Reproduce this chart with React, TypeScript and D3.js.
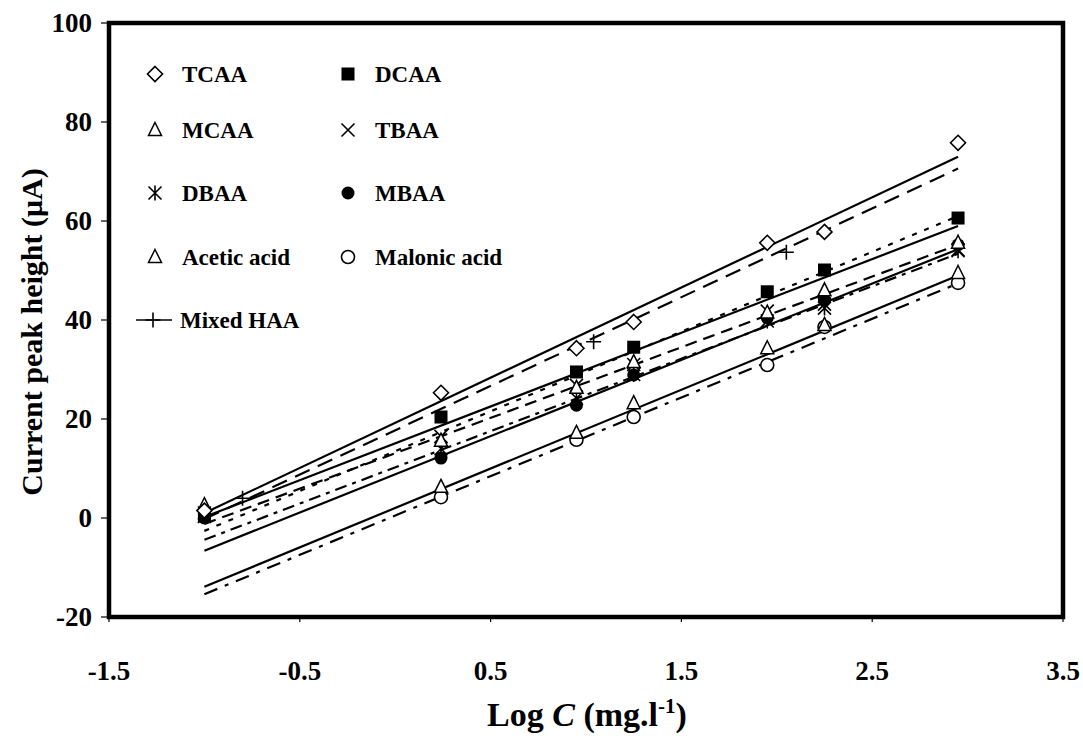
import React from 'react';
import { scaleLinear, line } from 'd3';

const width = 1083;
const height = 739;

// log concentration of the standards
const logC = [-1, 0.24, 0.95, 1.25, 1.95, 2.25, 2.95];

// peak heights (uA), null where no point was plotted
const tcaa = [1.5, 25.3, 34.3, 39.6, 55.6, 57.8, 75.8];
const dcaa = [0.4, 20.4, 29.5, 34.5, 45.7, 50.1, 60.6];
const mcaa = [2.6, 15.6, 26.3, 31.5, 41.5, 46.0, 55.6];
const tbaa = [1.0, 16.5, 26.8, 31.0, 41.8, 43.2, 54.2];
const dbaa = [0.3, 14.0, 24.2, 29.0, 39.8, 42.4, 54.0];
const mbaa = [0.0, 12.1, 22.8, 28.9, 40.4, 44.0, 55.2];
const acetic = [null, 6.3, 17.2, 23.2, 34.3, 39.0, 49.5];
const malonic = [null, 4.2, 15.8, 20.4, 30.9, 38.6, 47.5];

const mixedX = [-0.8, 1.04, 2.05];
const mixedY = [4.0, 35.6, 53.7];

// fitted calibration lines, value at first and last logC
const fitX = [-1, 2.95];
const fitTCAA = [1.0, 73.0];
const fitMixed = [-0.2, 70.6];
const fitMCAA = [-2.6, 61.0];
const fitDCAA = [0.2, 59.0];
const fitTBAA = [-1.2, 55.2];
const fitDBAA = [-4.4, 53.4];
const fitMBAA = [-6.6, 54.3];
const fitAcetic = [-13.9, 49.0];
const fitMalonic = [-15.4, 47.4];

const xTicks = [-1.5, -0.5, 0.5, 1.5, 2.5, 3.5];
const yTicks = [-20, 0, 20, 40, 60, 80, 100];

const font = '"Liberation Serif", "Times New Roman", serif';

const x = scaleLinear().domain([-1.5, 3.5]).range([109, 1063]);
const y = scaleLinear().domain([-20, 100]).range([617, 23]);

const Marker = ({ kind, cx, cy }) => {
  const s = 6.5;
  switch (kind) {
    case 'diamond':
      return (
        <path
          d={`M${cx},${cy - s - 1}L${cx + s + 1},${cy}L${cx},${cy + s + 1}L${cx - s - 1},${cy}Z`}
          fill="white"
          stroke="black"
          strokeWidth={1.6}
        />
      );
    case 'square':
      return <rect x={cx - s} y={cy - s} width={2 * s} height={2 * s} fill="black" />;
    case 'triangle':
      return (
        <path
          d={`M${cx},${cy - s - 1}L${cx + s},${cy + s - 1}L${cx - s},${cy + s - 1}Z`}
          fill="white"
          stroke="black"
          strokeWidth={1.5}
        />
      );
    case 'x':
      return (
        <path
          d={`M${cx - s},${cy - s}L${cx + s},${cy + s}M${cx - s},${cy + s}L${cx + s},${cy - s}`}
          stroke="black"
          strokeWidth={1.6}
        />
      );
    case 'star':
      return (
        <path
          d={`M${cx - s},${cy - s}L${cx + s},${cy + s}M${cx - s},${cy + s}L${cx + s},${cy - s}M${cx},${cy - s - 1}L${cx},${cy + s + 1}`}
          stroke="black"
          strokeWidth={1.6}
        />
      );
    case 'dot':
      return <circle cx={cx} cy={cy} r={s} fill="black" />;
    case 'circle':
      return <circle cx={cx} cy={cy} r={s} fill="white" stroke="black" strokeWidth={1.6} />;
    case 'plus':
      return (
        <path
          d={`M${cx - s - 1},${cy}L${cx + s + 1},${cy}M${cx},${cy - s - 1}L${cx},${cy + s + 1}`}
          stroke="black"
          strokeWidth={1.6}
        />
      );
    default:
      return null;
  }
};

const series = [
  { name: 'TCAA', kind: 'diamond', xs: logC, ys: tcaa, fit: fitTCAA, dash: null },
  { name: 'DCAA', kind: 'square', xs: logC, ys: dcaa, fit: fitDCAA, dash: null },
  { name: 'MCAA', kind: 'triangle', xs: logC, ys: mcaa, fit: fitMCAA, dash: '5,8' },
  { name: 'TBAA', kind: 'x', xs: logC, ys: tbaa, fit: fitTBAA, dash: '12,7' },
  { name: 'DBAA', kind: 'star', xs: logC, ys: dbaa, fit: fitDBAA, dash: '12,6,4,6' },
  { name: 'MBAA', kind: 'dot', xs: logC, ys: mbaa, fit: fitMBAA, dash: null },
  { name: 'Acetic acid', kind: 'triangle', xs: logC, ys: acetic, fit: fitAcetic, dash: null },
  { name: 'Malonic acid', kind: 'circle', xs: logC, ys: malonic, fit: fitMalonic, dash: '14,8,4,8' },
  { name: 'Mixed HAA', kind: 'plus', xs: mixedX, ys: mixedY, fit: fitMixed, dash: '16,9' },
];

// legend order (two columns, then Mixed HAA on its own row)
const legendRows = [
  ['TCAA', 'DCAA'],
  ['MCAA', 'TBAA'],
  ['DBAA', 'MBAA'],
  ['Acetic acid', 'Malonic acid'],
  ['Mixed HAA'],
];
const legendY = [74, 130, 193, 257, 320];

const App = () => {
  const fitLine = line()
    .x((d) => x(d[0]))
    .y((d) => y(d[1]));

  return (
    <svg
      width={width}
      height={height}
      style={{ position: 'absolute', left: 0, top: 0, display: 'block' }}
    >
      <rect width={width} height={height} fill="white" />

      {/* fitted lines */}
      {series.map((s) => (
        <path
          key={'fit' + s.name}
          d={fitLine(fitX.map((v, i) => [v, s.fit[i]]))}
          fill="none"
          stroke="black"
          strokeWidth={2.2}
          strokeDasharray={s.dash || undefined}
        />
      ))}

      {/* points, bottom series first */}
      {[...series].reverse().map((s) =>
        s.xs.map((v, i) =>
          s.ys[i] == null ? null : (
            <Marker key={s.name + i} kind={s.kind} cx={x(v)} cy={y(s.ys[i])} />
          )
        )
      )}

      {/* plot frame */}
      <rect
        x={x(-1.5)}
        y={y(100)}
        width={x(3.5) - x(-1.5)}
        height={y(-20) - y(100)}
        fill="none"
        stroke="black"
        strokeWidth={4.5}
      />

      {/* y axis */}
      {yTicks.map((t) => (
        <g key={'y' + t}>
          <line x1={x(-1.5) - 8} x2={x(-1.5)} y1={y(t)} y2={y(t)} stroke="black" strokeWidth={1.2} />
          <text
            x={92}
            y={y(t)}
            dy="0.35em"
            textAnchor="end"
            fontFamily={font}
            fontWeight="bold"
            fontSize={27}
          >
            {t}
          </text>
        </g>
      ))}

      {/* x axis */}
      {xTicks.map((t) => (
        <g key={'x' + t}>
          <line x1={x(t)} x2={x(t)} y1={y(-20)} y2={y(-20) + 5} stroke="black" strokeWidth={1.2} />
          <text
            x={x(t)}
            y={680}
            textAnchor="middle"
            fontFamily={font}
            fontWeight="bold"
            fontSize={27}
          >
            {t}
          </text>
        </g>
      ))}

      {/* axis titles */}
      <text
        transform={`translate(42, 332) rotate(-90)`}
        textAnchor="middle"
        fontFamily={font}
        fontWeight="bold"
        fontSize={30}
      >
        Current peak height (μA)
      </text>
      <text x={587} y={726} textAnchor="middle" fontFamily={font} fontWeight="bold" fontSize={34}>
        Log <tspan fontStyle="italic">C</tspan> (mg.l
        <tspan dy={-13} fontSize={21}>-1</tspan>
        <tspan dy={13}>)</tspan>
      </text>

      {/* legend */}
      {legendRows.map((row, r) =>
        row.map((name, c) => {
          const s = series.find((d) => d.name === name);
          const ly = legendY[r];
          if (name === 'Mixed HAA') {
            return (
              <g key={'lg' + name}>
                <line x1={136} x2={172} y1={ly} y2={ly} stroke="black" strokeWidth={1.6} />
                <Marker kind="plus" cx={153} cy={ly} />
                <text x={180} y={ly} dy="0.35em" fontFamily={font} fontWeight="bold" fontSize={23}>
                  {name}
                </text>
              </g>
            );
          }
          const mx = c === 0 ? 155 : 348;
          return (
            <g key={'lg' + name}>
              <Marker kind={s.kind} cx={mx} cy={ly} />
              <text
                x={mx + 27}
                y={ly}
                dy="0.35em"
                fontFamily={font}
                fontWeight="bold"
                fontSize={23}
              >
                {name}
              </text>
            </g>
          );
        })
      )}
    </svg>
  );
};

export default App;
